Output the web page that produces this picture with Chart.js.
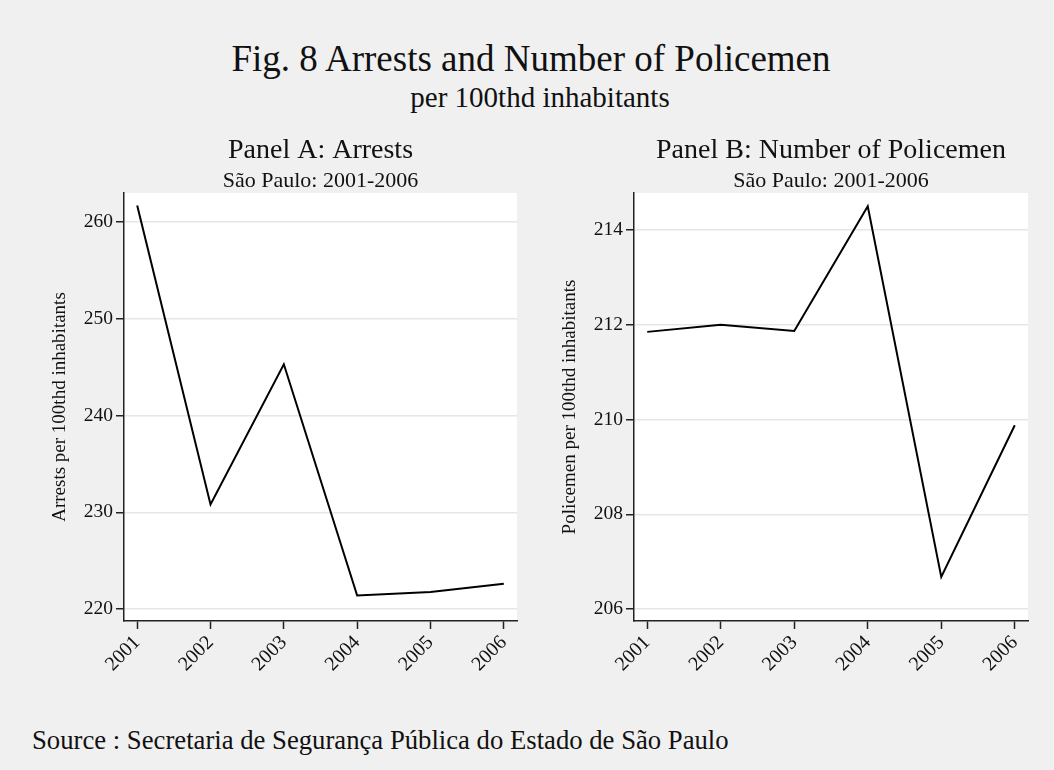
<!DOCTYPE html>
<html lang="en">
<head>
<meta charset="UTF-8">
<title>Fig. 8 Arrests and Number of Policemen</title>
<script src="https://cdn.jsdelivr.net/npm/chart.js"></script>
<style>
    body {margin: 0; background: #f0f0f0; font-family: 'Liberation Serif', 'Times New Roman', serif; color: #111;}
    #page {position: relative; width: 1054px; height: 770px; overflow: hidden; background: #f0f0f0;}
    .txt {position: absolute; white-space: nowrap; line-height: 1;}
    #title {left: 0; width: 1062px; text-align: center; top: 40px; font-size: 37px;}
    #subtitle {left: 0; width: 1080px; text-align: center; top: 83px; font-size: 29px;}
    #source {left: 32px; top: 727px; font-size: 26.7px;}
    canvas {position: absolute;}
    #chartA {left: 0; top: 125px;}
    #chartB {left: 510px; top: 125px;}
</style>
</head>
<body>
<div id="page">
    <div id="title" class="txt">Fig. 8 Arrests and Number of Policemen</div>
    <div id="subtitle" class="txt">per 100thd inhabitants</div>
    <canvas id="chartA" width="527" height="571"></canvas>
    <canvas id="chartB" width="528" height="571"></canvas>
    <div id="source" class="txt">Source : Secretaria de Segurança Pública do Estado de São Paulo</div>
</div>
<script>
// data
const years = [2001, 2002, 2003, 2004, 2005, 2006];
const arrests = [261.7, 230.8, 245.3, 221.4, 221.75, 222.6];
const policemen = [211.85, 212.0, 211.87, 214.5, 206.68, 209.88];
const arrestTicks = [220, 230, 240, 250, 260];
const policeTicks = [206, 208, 210, 212, 214];

const SERIF = "'Liberation Serif', 'Times New Roman', serif";
const INK = '#111';

// white plot region on the grey graph background
const plotBg = {
    id: 'plotBg',
    beforeDraw(chart) {
        const a = chart.chartArea, ctx = chart.ctx;
        ctx.save();
        ctx.fillStyle = '#ffffff';
        ctx.fillRect(a.left, a.top, a.right - a.left, a.bottom - a.top);
        ctx.restore();
    }
};

// panel title + subtitle centred over the plot region (Stata style)
const panelTitle = {
    id: 'panelTitle',
    afterDraw(chart, args, opts) {
        const a = chart.chartArea, ctx = chart.ctx;
        const cx = (a.left + a.right) / 2;
        ctx.save();
        ctx.fillStyle = INK;
        ctx.textAlign = 'center';
        ctx.textBaseline = 'alphabetic';
        ctx.font = "28px " + SERIF;
        ctx.fillText(opts.title, cx, 33);
        ctx.font = "22px " + SERIF;
        ctx.fillText(opts.sub, cx, 62);
        ctx.restore();
    }
};

function makePanel(id, values, yTicks, yMin, yMax, title, yTitle) {
    return new Chart(document.getElementById(id), {
        type: 'line',
        data: {
            datasets: [{
                data: years.map((y, i) => ({x: y, y: values[i]})),
                borderColor: '#000',
                borderWidth: 2,
                pointRadius: 0,
                tension: 0,
                fill: false
            }]
        },
        options: {
            responsive: false,
            animation: false,
            devicePixelRatio: 1,
            layout: {padding: {left: 0, right: 10, top: 68, bottom: 0}},
            plugins: {
                legend: {display: false},
                tooltip: {enabled: false},
                panelTitle: {title: title, sub: 'São Paulo: 2001-2006'}
            },
            scales: {
                x: {
                    type: 'linear',
                    min: 2000.82, max: 2006.18,
                    afterBuildTicks: s => { s.ticks = years.map(v => ({value: v})); },
                    afterFit: s => { s.height = 75; },
                    grid: {drawOnChartArea: false, drawTicks: true, tickLength: 8, tickColor: '#222', tickWidth: 1.5},
                    border: {display: true, color: '#222', width: 1.5},
                    ticks: {
                        color: INK, padding: 2, autoSkip: false,
                        minRotation: 45, maxRotation: 45,
                        font: {family: SERIF, size: 20},
                        callback: v => String(v)
                    }
                },
                y: {
                    min: yMin, max: yMax,
                    afterBuildTicks: s => { s.ticks = yTicks.map(v => ({value: v})); },
                    afterFit: s => { s.width = 124; },
                    grid: {color: '#e6e6e6', lineWidth: 1.5, drawTicks: true, tickLength: 8, tickColor: '#222', tickWidth: 1.5},
                    border: {display: true, color: '#222', width: 1.5},
                    ticks: {
                        color: INK, padding: 3,
                        font: {family: SERIF, size: 19.5},
                        callback: v => String(v)
                    },
                    title: {
                        display: true, text: yTitle, color: INK,
                        font: {family: SERIF, size: 19},
                        padding: {top: 49, bottom: 0}
                    }
                }
            }
        },
        plugins: [plotBg, panelTitle]
    });
}

makePanel('chartA', arrests, arrestTicks, 218.76, 263.0, 'Panel A: Arrests', 'Arrests per 100thd inhabitants');
makePanel('chartB', policemen, policeTicks, 205.75, 214.78, 'Panel B: Number of Policemen', 'Policemen per 100thd inhabitants');
</script>
</body>
</html>
